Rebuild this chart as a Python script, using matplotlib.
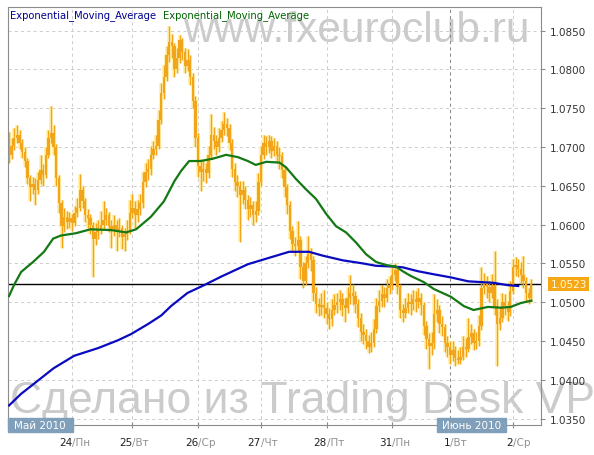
import matplotlib
matplotlib.use("Agg")
import matplotlib.pyplot as plt
import matplotlib.transforms as mtransforms
from matplotlib.patches import Rectangle
import numpy as np

# hourly EUR/CHF-like bars, 21 May - 2 Jun 2010
close = [1.0690, 1.0702, 1.0712, 1.0716, 1.0705, 1.0694, 1.0682, 1.0660, 1.0648, 1.0652,
         1.0645, 1.0658, 1.0670, 1.0664, 1.0690, 1.0712, 1.0718, 1.0700, 1.0660, 1.0628,
         1.0598, 1.0610, 1.0604, 1.0608, 1.0602, 1.0615, 1.0622, 1.0645, 1.0630, 1.0612,
         1.0608, 1.0600, 1.0582, 1.0590, 1.0594, 1.0600, 1.0606, 1.0612, 1.0598, 1.0594,
         1.0600, 1.0590, 1.0596, 1.0584, 1.0588, 1.0592, 1.0615, 1.0622, 1.0612, 1.0620,
         1.0628, 1.0655, 1.0668, 1.0672, 1.0690, 1.0698, 1.0702, 1.0735, 1.0770, 1.0790,
         1.0818, 1.0835, 1.0830, 1.0800, 1.0815, 1.0838, 1.0822, 1.0805, 1.0812, 1.0790,
         1.0760, 1.0712, 1.0675, 1.0668, 1.0672, 1.0666, 1.0690, 1.0716, 1.0708, 1.0700,
         1.0712, 1.0722, 1.0730, 1.0724, 1.0705, 1.0672, 1.0655, 1.0650, 1.0638, 1.0645,
         1.0632, 1.0620, 1.0625, 1.0612, 1.0618, 1.0655, 1.0690, 1.0705, 1.0700, 1.0708,
         1.0695, 1.0702, 1.0690, 1.0688, 1.0670, 1.0648, 1.0625, 1.0592, 1.0575, 1.0572,
         1.0580, 1.0545, 1.0528, 1.0550, 1.0562, 1.0555, 1.0512, 1.0498, 1.0494, 1.0496,
         1.0492, 1.0485, 1.0478, 1.0490, 1.0496, 1.0500, 1.0504, 1.0496, 1.0492, 1.0505,
         1.0512, 1.0508, 1.0498, 1.0480, 1.0462, 1.0458, 1.0450, 1.0442, 1.0448, 1.0465,
         1.0495, 1.0502, 1.0510, 1.0506, 1.0518, 1.0522, 1.0535, 1.0542, 1.0520, 1.0490,
         1.0486, 1.0492, 1.0500, 1.0498, 1.0504, 1.0500, 1.0505, 1.0496, 1.0470, 1.0452,
         1.0443, 1.0448, 1.0485, 1.0490, 1.0472, 1.0468, 1.0448, 1.0442, 1.0432, 1.0438,
         1.0428, 1.0426, 1.0430, 1.0442, 1.0440, 1.0455, 1.0460, 1.0448, 1.0450, 1.0470,
         1.0518, 1.0525, 1.0520, 1.0512, 1.0522, 1.0495, 1.0472, 1.0480, 1.0500, 1.0495,
         1.0488, 1.0515, 1.0545, 1.0548, 1.0543, 1.0535, 1.0528, 1.0512, 1.0505, 1.0523]

high = [1.0719, 1.0712, 1.0724, 1.0728, 1.0722, 1.0710, 1.0700, 1.0686, 1.0664, 1.0662,
        1.0660, 1.0668, 1.0690, 1.0678, 1.0700, 1.0722, 1.0753, 1.0728, 1.0704, 1.0664,
        1.0632, 1.0622, 1.0618, 1.0616, 1.0614, 1.0624, 1.0634, 1.0665, 1.0650, 1.0634,
        1.0620, 1.0614, 1.0604, 1.0602, 1.0606, 1.0618, 1.0630, 1.0622, 1.0616, 1.0606,
        1.0612, 1.0606, 1.0608, 1.0600, 1.0596, 1.0606, 1.0632, 1.0640, 1.0630, 1.0632,
        1.0640, 1.0668, 1.0680, 1.0684, 1.0702, 1.0708, 1.0716, 1.0748, 1.0782, 1.0806,
        1.0830, 1.0856, 1.0846, 1.0834, 1.0828, 1.0845, 1.0840, 1.0828, 1.0826, 1.0818,
        1.0796, 1.0766, 1.0718, 1.0684, 1.0682, 1.0680, 1.0702, 1.0743, 1.0726, 1.0716,
        1.0724, 1.0734, 1.0745, 1.0738, 1.0730, 1.0710, 1.0680, 1.0664, 1.0656, 1.0656,
        1.0650, 1.0638, 1.0636, 1.0630, 1.0630, 1.0666, 1.0702, 1.0716, 1.0714, 1.0716,
        1.0714, 1.0712, 1.0708, 1.0700, 1.0694, 1.0676, 1.0652, 1.0630, 1.0598, 1.0584,
        1.0605, 1.0586, 1.0552, 1.0560, 1.0585, 1.0570, 1.0560, 1.0520, 1.0506, 1.0512,
        1.0516, 1.0500, 1.0492, 1.0504, 1.0510, 1.0512, 1.0516, 1.0512, 1.0506, 1.0520,
        1.0535, 1.0524, 1.0514, 1.0504, 1.0486, 1.0472, 1.0466, 1.0458, 1.0462, 1.0478,
        1.0506, 1.0516, 1.0522, 1.0520, 1.0530, 1.0534, 1.0546, 1.0550, 1.0546, 1.0524,
        1.0498, 1.0506, 1.0512, 1.0510, 1.0516, 1.0514, 1.0518, 1.0512, 1.0500, 1.0476,
        1.0460, 1.0462, 1.0510, 1.0504, 1.0496, 1.0482, 1.0472, 1.0456, 1.0450, 1.0450,
        1.0444, 1.0438, 1.0442, 1.0456, 1.0454, 1.0480, 1.0472, 1.0466, 1.0462, 1.0484,
        1.0545, 1.0538, 1.0534, 1.0528, 1.0536, 1.0566, 1.0504, 1.0494, 1.0512, 1.0510,
        1.0502, 1.0528, 1.0556, 1.0558, 1.0556, 1.0552, 1.0560, 1.0532, 1.0518, 1.0530]

low = [1.0680, 1.0684, 1.0696, 1.0705, 1.0698, 1.0686, 1.0674, 1.0652, 1.0630, 1.0640,
       1.0625, 1.0640, 1.0652, 1.0650, 1.0660, 1.0686, 1.0705, 1.0690, 1.0650, 1.0615,
       1.0570, 1.0590, 1.0594, 1.0596, 1.0592, 1.0598, 1.0610, 1.0618, 1.0622, 1.0604,
       1.0596, 1.0588, 1.0532, 1.0574, 1.0582, 1.0588, 1.0594, 1.0600, 1.0590, 1.0570,
       1.0586, 1.0566, 1.0584, 1.0568, 1.0566, 1.0580, 1.0588, 1.0608, 1.0596, 1.0604,
       1.0612, 1.0622, 1.0648, 1.0658, 1.0664, 1.0684, 1.0690, 1.0698, 1.0730, 1.0762,
       1.0785, 1.0810, 1.0815, 1.0790, 1.0795, 1.0808, 1.0812, 1.0795, 1.0798, 1.0780,
       1.0750, 1.0700, 1.0662, 1.0643, 1.0656, 1.0654, 1.0660, 1.0684, 1.0698, 1.0690,
       1.0694, 1.0706, 1.0716, 1.0714, 1.0696, 1.0662, 1.0644, 1.0636, 1.0578, 1.0626,
       1.0620, 1.0606, 1.0610, 1.0600, 1.0604, 1.0612, 1.0650, 1.0684, 1.0690, 1.0692,
       1.0686, 1.0688, 1.0680, 1.0672, 1.0660, 1.0636, 1.0614, 1.0582, 1.0566, 1.0560,
       1.0566, 1.0530, 1.0518, 1.0522, 1.0544, 1.0540, 1.0502, 1.0486, 1.0482, 1.0484,
       1.0480, 1.0472, 1.0466, 1.0470, 1.0484, 1.0486, 1.0490, 1.0482, 1.0474, 1.0486,
       1.0498, 1.0496, 1.0486, 1.0468, 1.0450, 1.0446, 1.0440, 1.0435, 1.0436, 1.0442,
       1.0460, 1.0488, 1.0494, 1.0494, 1.0500, 1.0510, 1.0516, 1.0528, 1.0510, 1.0480,
       1.0474, 1.0480, 1.0486, 1.0484, 1.0490, 1.0488, 1.0492, 1.0484, 1.0458, 1.0440,
       1.0414, 1.0432, 1.0440, 1.0474, 1.0460, 1.0456, 1.0436, 1.0430, 1.0420, 1.0424,
       1.0418, 1.0420, 1.0420, 1.0426, 1.0430, 1.0436, 1.0446, 1.0438, 1.0440, 1.0444,
       1.0464, 1.0510, 1.0506, 1.0500, 1.0506, 1.0484, 1.0418, 1.0464, 1.0474, 1.0484,
       1.0476, 1.0482, 1.0510, 1.0534, 1.0532, 1.0524, 1.0518, 1.0500, 1.0498, 1.0500]

first_open = 1.0708
last_price = 1.0523

# EMA curves (bar index, value)
ema_green_x = [0, 2, 4.6, 9.5, 13.3, 16.8, 19.8, 25.5, 31, 39, 44.6, 48.4, 54, 59, 63, 65.5,
               68.6, 73, 77.7, 82.7, 87.2, 91, 94, 98, 103, 105.5, 109.3, 113, 117, 120.8,
               124.6, 128.4, 132.2, 136, 139.8, 143.6, 147.4, 150, 153, 158, 161.9, 168.4,
               173.3, 177, 182.5, 187.4, 191.2, 195, 199]
ema_green = [1.0508, 1.0523, 1.0539, 1.0553, 1.0565, 1.0582, 1.0586, 1.0589, 1.0594, 1.0593,
             1.0590, 1.0594, 1.0610, 1.0630, 1.0656, 1.0669, 1.0682, 1.0682, 1.0685, 1.0690,
             1.0687, 1.0682, 1.0677, 1.0681, 1.0680, 1.0674, 1.0659, 1.0646, 1.0633, 1.0614,
             1.0598, 1.0590, 1.0577, 1.0562, 1.0552, 1.0548, 1.0546, 1.0540, 1.0534, 1.0526,
             1.0517, 1.0507, 1.0495, 1.0490, 1.0494, 1.0493, 1.0494, 1.0499, 1.0502]

ema_blue_x = [0, 4.6, 9.5, 17, 24.8, 34, 41.5, 46.5, 53, 58, 61.7, 68, 74.3, 80.8, 91, 99.8,
              106.7, 114.3, 119.6, 127.2, 134.9, 139.8, 146.3, 150, 155.8, 161.9, 168.4,
              174.9, 179.8, 184.8, 190, 194]
ema_blue = [1.0367, 1.0382, 1.0395, 1.0415, 1.0431, 1.0441, 1.0451, 1.0459, 1.0472, 1.0483,
            1.0495, 1.0512, 1.0522, 1.0533, 1.0549, 1.0558, 1.0565, 1.0565, 1.0560, 1.0554,
            1.0550, 1.0547, 1.0546, 1.0545, 1.0540, 1.0536, 1.0532, 1.0527, 1.0526, 1.0525,
            1.0522, 1.0521]

day_ticks = [24, 47, 72, 96, 121, 146, 168, 192]
day_nums = ['24', '25', '26', '27', '28', '31', '1', '2']
day_names = ['Пн', 'Вт', 'Ср', 'Чт', 'Пт', 'Пн', 'Вт', 'Ср']
y_ticks = [1.035, 1.040, 1.045, 1.050, 1.055, 1.060, 1.065, 1.070, 1.075, 1.080, 1.085]

ORANGE = '#F2A51A'
GLOW = '#FFF1B0'
GRIDC = '#cfcfcf'
FRAME = '#8c8c8c'

fig = plt.figure(figsize=(5.94, 4.56), dpi=100)
ax = fig.add_axes([8 / 594, (456 - 425.7) / 456, 532.5 / 594, 417.7 / 456])

n = len(close)
x = np.arange(n)
c = np.array(close)
o = np.concatenate([[first_open], c[:-1]])
hi = np.array(high)
lo = np.array(low)
body_lo = np.minimum(o, c)
body_h = np.maximum(np.abs(c - o), 0.00005)

# glow layer under the candles
ax.vlines(x, lo, hi, color=GLOW, lw=2.8, zorder=1.5)
ax.bar(x, body_h, bottom=body_lo, width=0.9, color=GLOW, edgecolor=GLOW, lw=1.6, zorder=1.5)
# candles
ax.vlines(x, lo, hi, color=ORANGE, lw=1.0, zorder=2)
ax.bar(x, body_h, bottom=body_lo, width=0.9, color=ORANGE, lw=0, zorder=2)

ax.axhline(last_price, color='black', lw=1.0, zorder=1.8)
ax.plot(ema_blue_x, ema_blue, color='#0a0ac0', lw=1.6, zorder=3)
ax.plot(ema_green_x, ema_green, color='#147814', lw=1.6, zorder=3)

ax.set_xlim(-0.4, 202.5)
ax.set_ylim(1.03422, 1.08805)

# grid
for yv in y_ticks:
    ax.axhline(yv, color=GRIDC, lw=0.75, ls=(0, (3, 3)), zorder=0.8)
for xv, d in zip(day_ticks, day_nums):
    col = '#8a8a8a' if d == '1' else GRIDC
    ax.axvline(xv, color=col, lw=0.75, ls=(0, (3, 3)), zorder=0.8)

for s in ax.spines.values():
    s.set_color(FRAME)
    s.set_linewidth(0.8)

ax.yaxis.tick_right()
ax.set_yticks(y_ticks)
ax.set_yticklabels(['%.4f' % v for v in y_ticks])
ax.tick_params(axis='y', direction='out', length=3, color=FRAME, labelcolor='#333333',
               labelsize=7.5, pad=4)
ax.set_xticks(day_ticks)
ax.set_xticklabels([])
ax.tick_params(axis='x', direction='inout', length=5, color=FRAME)

tr = mtransforms.blended_transform_factory(ax.transData, ax.transAxes)
for xv, d, w in zip(day_ticks, day_nums, day_names):
    ax.text(xv, -0.042, d, transform=tr, ha='right', va='center', fontsize=7.5,
            color='#222222', clip_on=False)
    ax.text(xv, -0.042, '/' + w, transform=tr, ha='left', va='center', fontsize=7.5,
            color='#909090', clip_on=False)

# month boxes
ax.add_patch(Rectangle((-0.4, -0.0175), 24.7, 0.0335, transform=tr, color='#809fba',
                       clip_on=False, zorder=4))
ax.text(11.9, 0, 'Май 2010', transform=tr, ha='center', va='center', fontsize=7.5,
        color='white', clip_on=False, zorder=5)
ax.add_patch(Rectangle((163.0, -0.0175), 26.3, 0.0335, transform=tr, color='#809fba',
                       clip_on=False, zorder=4))
ax.text(176.2, 0, 'Июнь 2010', transform=tr, ha='center', va='center', fontsize=7.5,
        color='white', clip_on=False, zorder=5)

# current price label
tr2 = mtransforms.blended_transform_factory(ax.transAxes, ax.transData)
ax.text(1.0 + 10 / 532.5, last_price, '%.4f' % last_price, transform=tr2, ha='left',
        va='center', fontsize=7.5, color='#fff8e0', clip_on=False,
        bbox=dict(boxstyle='square,pad=0.2', fc='#F5A814', ec='none'))

# watermarks and series captions
ax.text(530 / 594, (456 - 42) / 456, 'www.fxeuroclub.ru', transform=fig.transFigure,
        ha='right', va='baseline', fontsize=30.5, family='Liberation Sans', color='#cbcbcb',
        zorder=0.5, clip_on=False)
ax.text(10 / 594, (456 - 413) / 456, 'Сделано из Trading Desk VP', transform=fig.transFigure,
        ha='left', va='baseline', fontsize=32, family='Liberation Sans', color='#cbcbcb',
        zorder=0.5, clip_on=False)
ax.text(10 / 594, (456 - 15.5) / 456, 'Exponential_Moving_Average', transform=fig.transFigure,
        ha='left', va='center', fontsize=7.2, color='#00008c', zorder=5)
ax.text(163 / 594, (456 - 15.5) / 456, 'Exponential_Moving_Average', transform=fig.transFigure,
        ha='left', va='center', fontsize=7.2, color='#006400', zorder=5)

fig.savefig('out.png', dpi=100)
